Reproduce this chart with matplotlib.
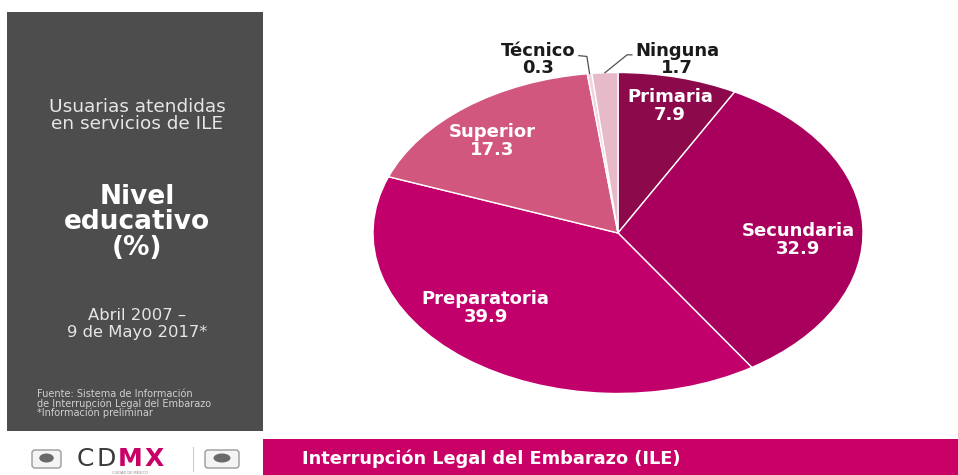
import matplotlib
matplotlib.use('Agg')  # sin pantalla
import numpy as np
import matplotlib.pyplot as plt
from matplotlib.patches import Rectangle, FancyBboxPatch, Ellipse

# ========== datos ==========
categorias = ['Primaria', 'Secundaria', 'Preparatoria', 'Superior', 'Técnico', 'Ninguna']
porcentajes = [7.9, 32.9, 39.9, 17.3, 0.3, 1.7]
colores = ['#8C0A4B', '#A8005C', '#C2006B', '#D2577F', '#F2D3DE', '#E6BAC8']

# posiciones de etiquetas (coordenadas del eje del pastel)
pos_internas = {
    'Primaria': (0.212, 0.79),
    'Secundaria': (0.735, -0.044),
    'Preparatoria': (-0.54, -0.47),
    'Superior': (-0.515, 0.575),
}
pos_externas = {
    'Técnico': ((-0.327, 1.08), (-0.127, 1.10), (-0.16, 1.105)),
    'Ninguna': ((0.241, 1.08), (0.037, 1.11), (0.057, 1.11)),
}

ROSA = '#C90066'
GRIS = '#4D4D4D'
OUT = 'out.png'

plt.rcParams['font.family'] = ['DejaVu Sans']

W, H = 958, 475
fig = plt.figure(figsize=(W / 100, H / 100), dpi=100)
fig.patch.set_facecolor('white')

# lienzo en pixeles
bg = fig.add_axes([0, 0, 1, 1])
bg.set_xlim(0, W)
bg.set_ylim(H, 0)
bg.axis('off')

# ========== panel gris ==========
bg.add_patch(Rectangle((7, 12), 256, 419, facecolor=GRIS, edgecolor='none'))
cx = 137
bg.text(cx, 107, 'Usuarias atendidas', color='#E6E6E6', fontsize=13.3, ha='center', va='center')
bg.text(cx, 124, 'en servicios de ILE', color='#E6E6E6', fontsize=13.3, ha='center', va='center')
for txt, y in [('Nivel', 197), ('educativo', 222), ('(%)', 248)]:
    bg.text(cx, y, txt, color='white', fontsize=19, fontweight='bold', ha='center', va='center')
bg.text(cx, 316, 'Abril 2007 –', color='#E6E6E6', fontsize=11.8, ha='center', va='center')
bg.text(cx, 332, '9 de Mayo 2017*', color='#E6E6E6', fontsize=11.8, ha='center', va='center')
for txt, y in [('Fuente: Sistema de Información', 394),
               ('de Interrupción Legal del Embarazo', 403.5),
               ('*Información preliminar', 413)]:
    bg.text(37, y, txt, color='#D0D0D0', fontsize=7.0, ha='left', va='center')

# ========== barra inferior ==========
bg.add_patch(Rectangle((263, 439), W - 263, 36, facecolor=ROSA, edgecolor='none'))
bg.text(302, 459, 'Interrupción Legal del Embarazo (ILE)', color='white', fontsize=12.8,
        fontweight='bold', ha='left', va='center')

# logos (simplificados)
for x0, w in [(32, 29), (205, 34)]:
    bg.add_patch(FancyBboxPatch((x0, 450), w, 18, boxstyle='round,pad=0,rounding_size=3',
                                facecolor='#F4F4F4', edgecolor='#9A9A9A', linewidth=1))
    bg.add_patch(Ellipse((x0 + w / 2, 458), w * 0.5, 9, facecolor='#6A6A6A', edgecolor='none'))
prev = bg.text(77, 466, 'C', color='#3A3A3A', fontsize=18, ha='left', va='baseline')
for letra, col, peso in [('D', '#3A3A3A', 'normal'), ('M', ROSA, 'bold'), ('X', ROSA, 'bold')]:
    prev = bg.annotate(letra, xy=(1, 0), xycoords=prev, xytext=(1.5, 0), textcoords='offset points',
                       color=col, fontsize=18, fontweight=peso, ha='left', va='bottom')
bg.text(130, 472.5, 'CIUDAD DE MÉXICO', color='#888888', fontsize=2.6, ha='center', va='center')
bg.plot([193, 193], [447, 471], color='#CCCCCC', linewidth=0.8)

# ========== pastel ==========
pcx, pcy, rx, ry = 618, 233, 245, 160.5
ax = fig.add_axes([(pcx - rx) / W, (H - pcy - ry) / H, 2 * rx / W, 2 * ry / H])
wedges, _ = ax.pie(porcentajes, colors=colores, startangle=90, counterclock=False,
                   wedgeprops=dict(edgecolor='white', linewidth=1))
ax.set_aspect('auto')
ax.set_xlim(-1, 1)
ax.set_ylim(-1, 1)
ax.axis('off')

for cat, val in zip(categorias, porcentajes):
    if cat in pos_internas:
        x, y = pos_internas[cat]
        ax.text(x, y, f'{cat}\n{val:.1f}', color='white', fontsize=13, fontweight='bold',
                ha='center', va='center', linespacing=1.0)

acum = np.cumsum([0] + porcentajes)
for i, cat in enumerate(categorias):
    if cat not in pos_externas:
        continue
    (tx, ty), (ex, ey), (sx, sy) = pos_externas[cat]
    mid = np.deg2rad(90 - (acum[i] + porcentajes[i] / 2) * 3.6)
    px, py = np.cos(mid), np.sin(mid)
    ax.plot([px, ex, sx], [py, ey, sy], color='#505050', linewidth=0.9, clip_on=False)
    ax.text(tx, ty, f'{cat}\n{porcentajes[i]:.1f}', color='#1A1A1A', fontsize=13,
            fontweight='bold', ha='center', va='center', linespacing=0.95)

fig.savefig(OUT, dpi=100)
plt.close(fig)
